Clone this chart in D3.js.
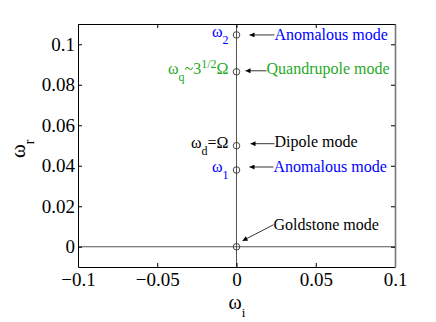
<!DOCTYPE html>
<html>
<head>
  <meta charset="utf-8">
  <title>mode spectrum</title>
  <script src="https://d3js.org/d3.v7.min.js"></script>
  <style>
    body { margin: 0; background: #fff; }
    svg text { font-family: 'Liberation Serif', 'Times New Roman', 'DejaVu Serif', serif !important; }
  </style>
</head>
<body>
<div id="chart"></div>
<script>
// data
var modeNames = ["Anomalous mode", "Quandrupole mode", "Dipole mode", "Anomalous mode", "Goldstone mode"];
var omegaI = [0, 0, 0, 0, 0];
var omegaR = [0.1046, 0.0864, 0.0499, 0.0379, 0];
var modeColors = ["#0000ff", "#1faa1f", "#000", "#0000ff", "#000"];
var xTicks = [-0.1, -0.05, 0, 0.05, 0.1];
var xTickLabels = ["\u22120.1", "\u22120.05", "0", "0.05", "0.1"];
var yTicks = [0, 0.02, 0.04, 0.06, 0.08, 0.1];
var yTickLabels = ["0", "0.02", "0.04", "0.06", "0.08", "0.1"];

var W = 436, H = 322;
var margin = {top: 24, right: 41, bottom: 55, left: 78};
var serif = "'Liberation Serif', 'Times New Roman', 'DejaVu Serif', serif";

var svg = d3.select("#chart").append("svg")
  .attr("width", W).attr("height", H)
  .attr("font-family", serif);

var x = d3.scaleLinear().domain([-0.1, 0.1]).range([margin.left, W - margin.right]);
var y = d3.scaleLinear().domain([-0.01, 0.11]).range([H - margin.bottom, margin.top]);

var x0 = x.range()[0], x1 = x.range()[1];
var y0 = y.range()[0], y1 = y.range()[1];

// zero lines
svg.append("line").attr("x1", x(0)).attr("x2", x(0)).attr("y1", y1).attr("y2", y0)
  .attr("stroke", "#555").attr("stroke-width", 1);
svg.append("line").attr("x1", x0).attr("x2", x1).attr("y1", y(0)).attr("y2", y(0))
  .attr("stroke", "#555").attr("stroke-width", 1);

// axes (ticks inward, box)
var tickLen = 4;
var fmtX = function(d, i) { return xTickLabels[i]; };
var fmtY = function(d, i) { return yTickLabels[i]; };

var gB = svg.append("g").attr("transform", "translate(0," + y0 + ")")
  .call(d3.axisBottom(x).tickValues(xTicks).tickFormat(fmtX).tickSizeInner(-tickLen).tickSizeOuter(0).tickPadding(6));
var gT = svg.append("g").attr("transform", "translate(0," + y1 + ")")
  .call(d3.axisTop(x).tickValues(xTicks).tickFormat("").tickSizeInner(-tickLen).tickSizeOuter(0));
var gL = svg.append("g").attr("transform", "translate(" + x0 + ",0)")
  .call(d3.axisLeft(y).tickValues(yTicks).tickFormat(fmtY).tickSizeInner(-tickLen).tickSizeOuter(0).tickPadding(3));
var gR = svg.append("g").attr("transform", "translate(" + x1 + ",0)")
  .call(d3.axisRight(y).tickValues(yTicks).tickFormat("").tickSizeInner(-tickLen).tickSizeOuter(0));

[gB, gT, gL, gR].forEach(function(g) {
  g.attr("font-family", serif).attr("font-size", 19);
  g.selectAll(".domain").attr("stroke", "#000");
  g.selectAll(".tick line").attr("stroke", "#000");
  g.selectAll("text").attr("fill", "#000");
});
gR.select(".domain").attr("stroke", "#777").attr("stroke-width", 1.6);

// axis labels
var xl = svg.append("text").attr("x", x(0) - 8).attr("y", 309).attr("font-size", 20);
xl.append("tspan").text("\u03c9");
xl.append("tspan").attr("font-size", 13).attr("dy", 8).text("i");

var yl = svg.append("text").attr("transform", "translate(25," + 158 + ") rotate(-90)").attr("font-size", 21);
yl.append("tspan").text("\u03c9");
yl.append("tspan").attr("font-size", 14).attr("dy", 9).text("r");

// markers
svg.selectAll("circle.pt").data(omegaR).enter().append("circle")
  .attr("class", "pt")
  .attr("cx", function(d, i) { return x(omegaI[i]); })
  .attr("cy", function(d) { return y(d); })
  .attr("r", 3.3)
  .attr("fill", "none").attr("stroke", "#333").attr("stroke-width", 0.9);

// arrowhead
svg.append("defs").append("marker")
  .attr("id", "ah").attr("viewBox", "0 0 10 10").attr("refX", 10).attr("refY", 5)
  .attr("markerWidth", 8).attr("markerHeight", 5).attr("markerUnits", "userSpaceOnUse")
  .attr("orient", "auto")
  .append("path").attr("d", "M0,0 L10,5 L0,10 Z").attr("fill", "#000");

// annotation layout: [tail dx, tail dy, head dx, head dy, text dx, text dy] relative to point
var annOffsets = [
  [38, 0, 13, 0, 38, 1],
  [30, -1, 9, -1, 30, -1],
  [38, -2, 14, -2, 38, -2],
  [37, -3, 13, -3, 37, -2],
  [37, -22, 6, -6, 37, -20]
];

omegaR.forEach(function(v, i) {
  var px = x(omegaI[i]), py = y(v), o = annOffsets[i];
  svg.append("line")
    .attr("x1", px + o[0]).attr("y1", py + o[1])
    .attr("x2", px + o[2]).attr("y2", py + o[3])
    .attr("stroke", "#000").attr("stroke-width", 0.8)
    .attr("marker-end", "url(#ah)");
  svg.append("text")
    .attr("x", px + o[4]).attr("y", py + o[5])
    .attr("dominant-baseline", "middle")
    .attr("font-size", 16).attr("fill", modeColors[i])
    .text(modeNames[i]);
});

// left-hand symbol labels
function symLabel(i, parts) {
  var t = svg.append("text")
    .attr("x", x(0) - 8).attr("y", y(omegaR[i]) + 2)
    .attr("text-anchor", "end").attr("font-size", 16).attr("fill", modeColors[i]);
  parts.forEach(function(p) {
    t.append("tspan").attr("font-size", p[1]).attr("dy", p[2]).text(p[0]);
  });
}
symLabel(0, [["\u03c9", 16, 0], ["2", 12, 7]]);
symLabel(1, [["\u03c9", 16, 0], ["q", 12, 7], ["~3", 16, -7], ["1/2", 12, -6], ["\u03a9", 16, 6]]);
symLabel(2, [["\u03c9", 16, 0], ["d", 12, 7], ["=\u03a9", 16, -7]]);
symLabel(3, [["\u03c9", 16, 0], ["1", 12, 7]]);
</script>
</body>
</html>
